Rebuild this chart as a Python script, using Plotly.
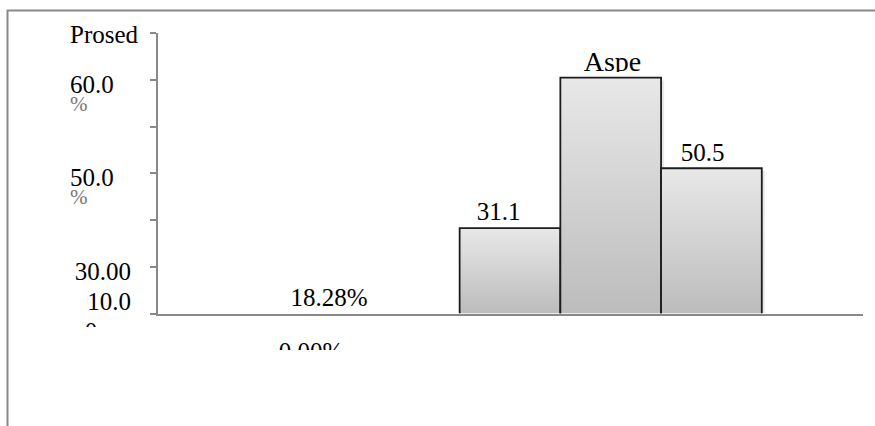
import plotly.graph_objects as go

W, H = 875, 426

# ---- data ----
categories = ["A", "B", "C"]
values = [18.28, 50.5, 31.1]          # percent
y_ticks = [0, 10, 20, 30, 40, 50, 60]

# ---- text drawn on the chart ----
axis_title = "Prosed"
tick_texts = ["60.0", "%", "50.0", "%", "30.00", "10.0"]
bar_texts = ["31.1", "Aspe", "50.5"]
side_texts = ["18.28%", "0", "0.00%"]

GRAY = "#898989"
FONT = "Liberation Serif"
FS = 25

# plot-area edges in pixels
PX_L, PX_R, PX_T, PX_B = 157.5, 862.5, 33.3, 313.5

fig = go.Figure()

# soft drop shadow behind the bars (small offset right and down)
SH_DX, SH_DY = 0.03, 0.6
for i, v in enumerate(values):
    fig.add_trace(go.Scatter(
        x=[i - 0.5 + SH_DX, i - 0.5 + SH_DX, i + 0.5 + SH_DX, i + 0.5 + SH_DX],
        y=[0, v - SH_DY, v - SH_DY, 0],
        mode="none", fill="toself", fillcolor="rgba(0,0,0,0.09)",
        hoverinfo="skip", showlegend=False,
        xaxis="x", yaxis="y",
    ))

# bars with a vertical light-to-dark gradient
for i, v in enumerate(values):
    fig.add_trace(go.Scatter(
        x=[i - 0.5, i - 0.5, i + 0.5, i + 0.5],
        y=[0, v, v, 0],
        mode="lines", fill="toself",
        fillgradient=dict(type="vertical",
                          colorscale=[[0, "#bcbcbc"], [1, "#e8e8e8"]]),
        line=dict(color="#1c1c1c", width=1.8),
        hoverinfo="skip", showlegend=False,
        xaxis="x", yaxis="y",
    ))


def add_text(txt, x, baseline, pos, yaxis="y2", color="#000000", size=FS):
    """Place a text so that its baseline lands on the given pixel row."""
    fig.add_trace(go.Scatter(
        x=[x], y=[baseline - 0.25 * size], text=[txt],
        mode="text", textposition=pos,
        textfont=dict(family=FONT, size=size, color=color),
        cliponaxis=(yaxis != "y2"),
        hoverinfo="skip", showlegend=False,
        xaxis="x2", yaxis=yaxis,
    ))


# y-axis title and tick texts (left column)
add_text(axis_title, 70, 43.3, "middle right")
add_text(tick_texts[0], 70, 93.3, "middle right")
add_text(tick_texts[1], 70, 111, "middle right", color="#777777", size=21)
add_text(tick_texts[2], 70, 186, "middle right")
add_text(tick_texts[3], 70, 204, "middle right", color="#777777", size=21)
add_text(tick_texts[4], 131, 280, "middle left")
add_text(tick_texts[5], 131, 310, "middle left")

# texts over the bars
add_text(bar_texts[0], 498.5, 220, "middle center")
add_text(bar_texts[1], 612.5, 70.5, "middle center", yaxis="y5", size=28)
add_text(bar_texts[2], 702.5, 160.7, "middle center")

# texts in the empty left part
add_text(side_texts[0], 329, 306, "middle center")
add_text(side_texts[1], 91, 340, "middle center", yaxis="y3")
add_text(side_texts[2], 311, 360, "middle center", yaxis="y4")


def pixel_y(clip):
    """A hidden y axis measured in pixels, whose area ends at row `clip`."""
    return dict(domain=[1 - clip / H, 1], range=[clip, 0], visible=False,
                anchor="x2", fixedrange=True)


fig.update_layout(
    width=W, height=H,
    margin=dict(l=0, r=0, t=0, b=0, autoexpand=False),
    paper_bgcolor="white", plot_bgcolor="rgba(0,0,0,0)",
    showlegend=False,
    xaxis=dict(domain=[PX_L / W, PX_R / W], range=[-3.5, 3.5],
               showline=True, linecolor=GRAY, linewidth=1.6,
               showticklabels=False, ticks="", showgrid=False,
               zeroline=False, fixedrange=True, anchor="y"),
    yaxis=dict(domain=[1 - PX_B / H, 1 - PX_T / H], range=[0, 60],
               tickvals=y_ticks, showticklabels=False,
               ticks="outside", ticklen=6, tickwidth=1.6, tickcolor=GRAY,
               showline=True, linecolor=GRAY, linewidth=1.6,
               showgrid=False, zeroline=False, fixedrange=True, anchor="x"),
    xaxis2=dict(domain=[0, 1], range=[0, W], visible=False,
                anchor="y2", fixedrange=True),
    yaxis2=pixel_y(H),
    yaxis3=pixel_y(327),
    yaxis4=pixel_y(350),
    yaxis5=pixel_y(72),
    shapes=[
        # outer chart frame (left and top edges visible)
        dict(type="rect", xref="x2", yref="y2",
             x0=7.5, y0=10.5, x1=W + 10, y1=H + 10,
             line=dict(color=GRAY, width=2), fillcolor="rgba(0,0,0,0)"),
    ],
)

fig.write_html("out.html")
